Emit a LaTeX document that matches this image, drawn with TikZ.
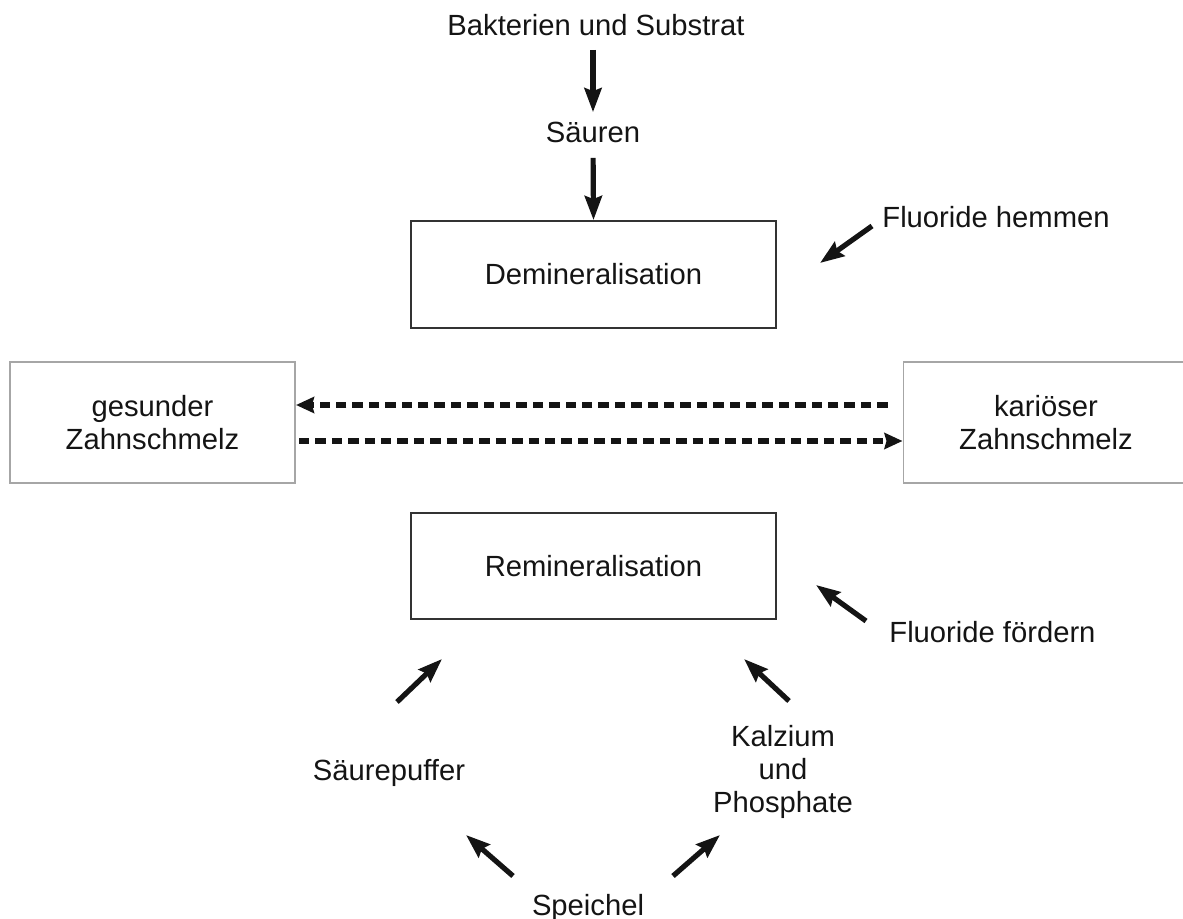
\documentclass[tikz,border=0pt]{standalone}
\usepackage{fontspec}
\setmainfont{Liberation Sans}
\usetikzlibrary{arrows.meta,calc}
\begin{document}
\begin{tikzpicture}[x=0.5pt,y=-0.5pt,
  every node/.style={font=\fontsize{14.6pt}{16.4pt}\selectfont, text=black!92},
  lbl/.style={inner sep=0pt, text height=10.4pt, text depth=0pt},
  mlbl/.style={inner sep=0pt, align=center},
  mainbox/.style={draw=black!80, line width=1.1pt, minimum width=182.5pt, minimum height=53.3pt, inner sep=0pt},
  sidebox/.style={draw=black!35, line width=0.8pt, minimum width=142.7pt, minimum height=60.5pt, inner sep=0pt, align=center},
  arr/.style={line width=2.6pt, draw=black!92, -{Stealth[length=12pt,width=8.5pt,inset=1.5pt]}},
  darr/.style={line width=2.8pt, draw=black!92, dash pattern=on 5.2pt off 3pt, -{Stealth[length=9pt,width=8pt,inset=1pt]}}
]
\useasboundingbox (0,0) rectangle (1183,919);

% nodes
\node[lbl] (bak) at (596,25) {Bakterien und Substrat};
\node[lbl] (sau) at (593,132) {Säuren};
\node[mainbox] (demin) at (593.5,274.5) {Demineralisation};
\node[lbl, anchor=west] (fhem) at (882,217) {Fluoride hemmen};
\node[sidebox] (gesund) at (152.5,422.5) {gesunder\\Zahnschmelz};
\node[sidebox] (karies) at (1046,422.5) {kariöser\\Zahnschmelz};
\node[mainbox] (remin) at (593.5,566) {Remineralisation};
\node[lbl, anchor=west] (ffoe) at (889,632) {Fluoride fördern};
\node[lbl] (spuf) at (389,770) {Säurepuffer};
\node[mlbl] (kalz) at (783,772) {Kalzium\\und\\Phosphate};
\node[lbl] (spei) at (588,905) {Speichel};

% free arrow ends
\coordinate (fhA) at (872,226);
\coordinate (fhB) at (820,263);
\coordinate (ffA) at (866,621);
\coordinate (ffB) at (816,585);
\coordinate (spA) at (397,702);
\coordinate (spB) at (442,659);
\coordinate (kzA) at (789,701);
\coordinate (kzB) at (744,659);
\coordinate (s1A) at (513,876);
\coordinate (s1B) at (466,835);
\coordinate (s2A) at (673,876);
\coordinate (s2B) at (720,835);

% connectors
\draw[arr, shorten <=7pt, shorten >=4.5pt] (bak.south -| sau) -- (sau.north);
\draw[arr, shorten <=7.5pt] (sau.south) -- (demin.north);
\draw[arr] (fhA) -- (fhB);
\draw[arr] (ffA) -- (ffB);
\draw[arr] (spA) -- (spB);
\draw[arr] (kzA) -- (kzB);
\draw[arr] (s1A) -- (s1B);
\draw[arr] (s2A) -- (s2B);

\draw[darr] ($(karies.west)+(-15,-17.5)$) -- ($(gesund.east)+(0,-17.5)$);
\draw[darr] ($(gesund.east)+(3,18.5)$) -- ($(karies.west)+(0,18.5)$);
\end{tikzpicture}
\end{document}
